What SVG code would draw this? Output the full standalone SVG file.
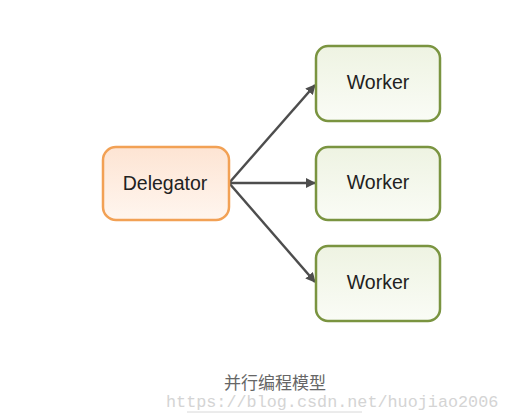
<svg xmlns="http://www.w3.org/2000/svg" width="507" height="420" viewBox="0 0 507 420">
<defs>
<linearGradient id="gO" x1="0" y1="0" x2="0" y2="1"><stop offset="0" stop-color="#fde4d3"/><stop offset="1" stop-color="#fff6ef"/></linearGradient>
<linearGradient id="gG" x1="0" y1="0" x2="0" y2="1"><stop offset="0" stop-color="#eef3e2"/><stop offset="1" stop-color="#fafcf6"/></linearGradient>
<marker id="ah" viewBox="0 0 10 10" refX="9" refY="5" markerWidth="10" markerHeight="10" markerUnits="userSpaceOnUse" orient="auto"><path d="M0,0 L10,5 L0,10 z" fill="#4d4d4d"/></marker>
</defs>
<style>
.lbl{font-family:"Liberation Sans",Arial,sans-serif;font-size:19.5px;fill:#222;text-anchor:middle}
.w{fill:url(#gG);stroke:#7a9440;stroke-width:2.5}
.d{fill:url(#gO);stroke:#f2a155;stroke-width:2.5}
.c{stroke:#4d4d4d;stroke-width:2.5;fill:none;marker-end:url(#ah)}
</style>
<rect width="507" height="420" fill="#fff"/>
<g id="connectors">
<line class="c" x1="229" y1="183" x2="315" y2="85"/>
<line class="c" x1="229" y1="183" x2="315" y2="183"/>
<line class="c" x1="229" y1="183" x2="315" y2="282"/>
</g>
<g id="delegator">
<rect class="d" x="103" y="147" width="126" height="73" rx="13"/>
<text class="lbl" x="165" y="190">Delegator</text>
</g>
<g id="worker1">
<rect class="w" x="316" y="46" width="124" height="75" rx="12"/>
<text class="lbl" x="378" y="89">Worker</text>
</g>
<g id="worker2">
<rect class="w" x="316" y="147" width="124" height="73" rx="12"/>
<text class="lbl" x="378" y="189">Worker</text>
</g>
<g id="worker3">
<rect class="w" x="316" y="246" width="124" height="75" rx="12"/>
<text class="lbl" x="378" y="289">Worker</text>
</g>
<g id="caption">
<text x="275" y="389" font-family="'Noto Sans CJK SC',sans-serif" font-size="17" fill="#666" text-anchor="middle">并行编程模型</text>
<text x="166" y="407" font-family="'Liberation Mono',monospace" font-size="16.8" fill="#d4d4d4">https://blog.csdn.net/huojiao2006</text>
<line x1="187" y1="412" x2="362" y2="412" stroke="#d8d8d8" stroke-width="1"/>
</g>
</svg>
